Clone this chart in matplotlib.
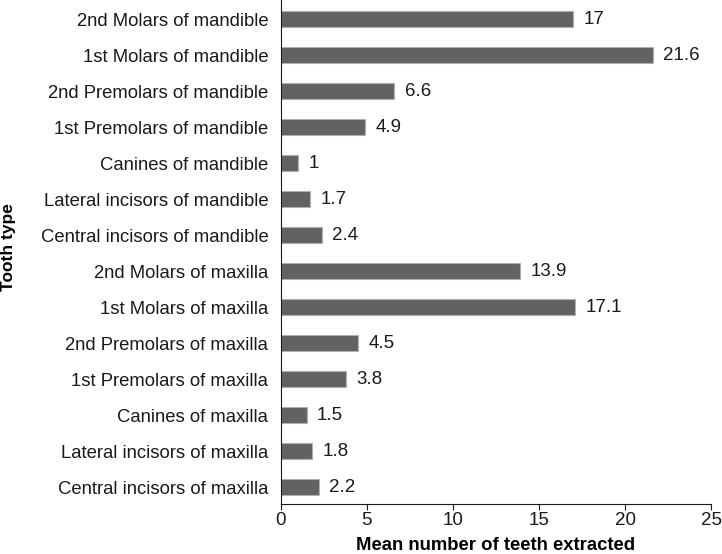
import matplotlib
matplotlib.use("Agg")
import matplotlib.pyplot as plt

plt.rcParams["font.family"] = ["Liberation Sans", "DejaVu Sans"]

tooth_types = [
    "Central incisors of maxilla",
    "Lateral incisors of maxilla",
    "Canines of maxilla",
    "1st Premolars of maxilla",
    "2nd Premolars of maxilla",
    "1st Molars of maxilla",
    "2nd Molars of maxilla",
    "Central incisors of mandible",
    "Lateral incisors of mandible",
    "Canines of mandible",
    "1st Premolars of mandible",
    "2nd Premolars of mandible",
    "1st Molars of mandible",
    "2nd Molars of mandible",
]
mean_extracted = [2.2, 1.8, 1.5, 3.8, 4.5, 17.1, 13.9, 2.4, 1.7, 1, 4.9, 6.6, 21.6, 17]
value_labels = ["2.2", "1.8", "1.5", "3.8", "4.5", "17.1", "13.9", "2.4", "1.7", "1", "4.9", "6.6", "21.6", "17"]

fig = plt.figure(figsize=(7.22, 5.54), dpi=100)
ax = fig.add_axes([0.389, 0.090, 0.596, 0.910])

y = range(len(tooth_types))
ax.barh(y, mean_extracted, height=0.45, color="#626262", edgecolor="#b0b0b0", linewidth=0.8)
for yi, v, lab in zip(y, mean_extracted, value_labels):
    ax.text(v + 0.6, yi, lab, va="center", ha="left", fontsize=13.5, color="#1a1a1a")

ax.set_xlim(0, 25)
ax.set_ylim(-0.47, len(tooth_types) - 0.47)
ax.set_xticks([0, 5, 10, 15, 20, 25])
ax.set_yticks(list(y))
ax.set_yticklabels(tooth_types, fontsize=13.3, color="#1a1a1a")
ax.tick_params(axis="x", labelsize=13.5, colors="#1a1a1a", length=4, direction="out", pad=2)
ax.tick_params(axis="y", length=0, pad=9)
ax.spines["top"].set_visible(False)
ax.spines["right"].set_visible(False)
ax.spines["left"].set_color("#1a1a1a")
ax.spines["bottom"].set_color("#1a1a1a")
ax.set_xlabel("Mean number of teeth extracted", fontsize=13.3, fontweight="bold")
ax.set_ylabel("Tooth type", fontsize=12.5, fontweight="bold")
ax.xaxis.set_label_coords(0.5, -0.066)
ax.yaxis.set_label_coords(-0.615, 0.509)

fig.savefig("out.png", dpi=100)
